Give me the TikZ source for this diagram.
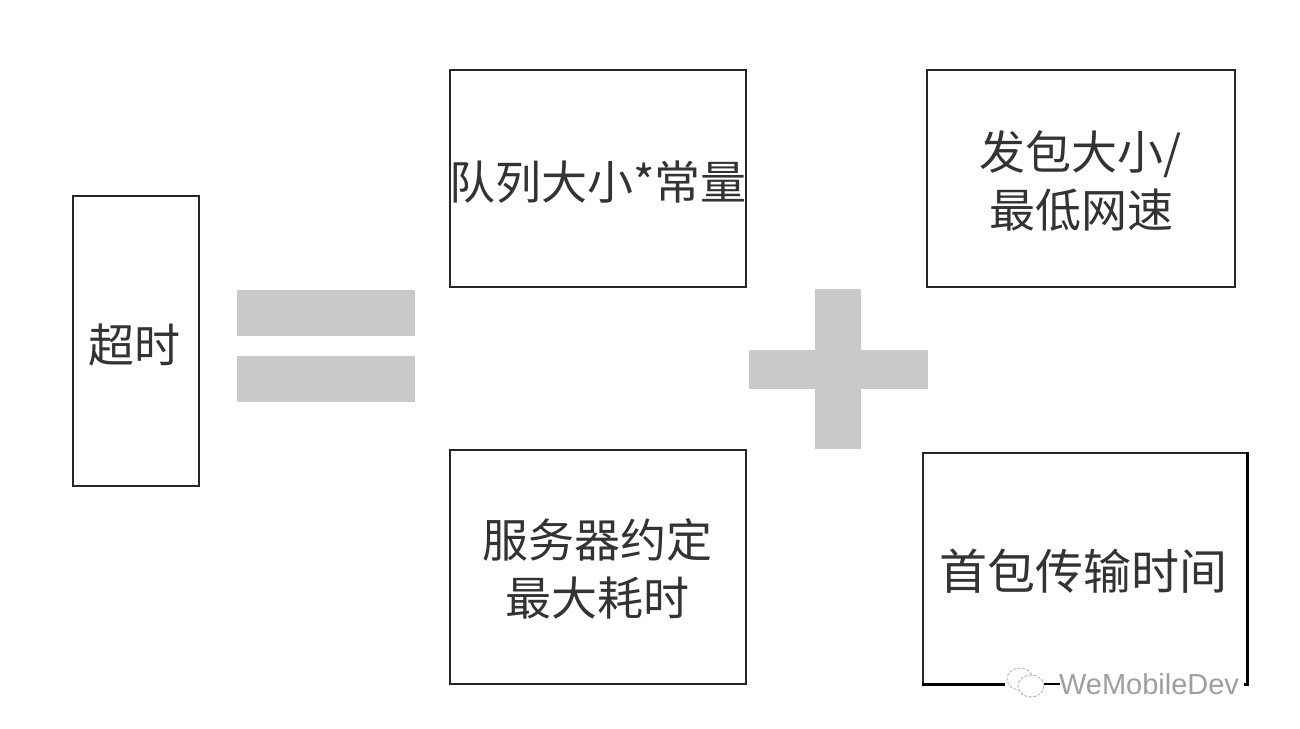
\documentclass[tikz,border=0pt]{standalone}
\usepackage{fontspec}
\newfontfamily\cjk{Noto Sans CJK SC}
\begin{document}
\begin{tikzpicture}[x=1pt,y=-1pt,
 box/.style={draw=black!85,line width=1.2pt,fill=white,inner sep=0pt},
 lab/.style={font=\cjk\fontsize{46}{58}\selectfont\color{black!80},align=center,inner sep=0pt},
 sym/.style={fill=gray!42,draw=none,inner sep=0pt},
 heavy/.style={draw=black,line width=2.6pt},
 wmark/.style={draw=gray!55,line width=1pt,dash pattern=on 3pt off 1.5pt,fill=white}]
\useasboundingbox (0,0) rectangle (1300,728);
\fill[white] (0,0) rectangle (1300,728);
\node[box,minimum width=126pt,minimum height=290pt] (a) at (136,341) {};
\node[lab] (at) at (134,345) {超时};
\node[box,minimum width=296pt,minimum height=217pt] (b) at (598,178.5) {};
\node[lab] (bt) at (598,182) {队列大小*常量};
\node[box,minimum width=308pt,minimum height=217pt] (c) at (1081,178.5) {};
\node[lab] (ct) at (1081,181) {发包大小/\\最低网速};
\node[box,minimum width=296pt,minimum height=234pt] (d) at (598,567) {};
\node[lab] (dt) at (597,569) {服务器约定\\最大耗时};
\node[box,minimum width=324pt,minimum height=231pt] (e) at (1085,568.5) {};
\draw[heavy] (e.north east) -- (e.south east) -- (e.south west);
\node[lab,font=\cjk\fontsize{48}{58}\selectfont\color{black!80}] (et) at (1083,571) {首包传输时间};
\node[sym,minimum width=178pt,minimum height=46pt] (eq1) at (326,312.5) {};
\node[sym,minimum width=178pt,minimum height=46pt] (eq2) at (326,379) {};
\node[sym,minimum width=179pt,minimum height=39pt] (p1) at (838.5,369) {};
\node[sym,minimum width=46pt,minimum height=160pt] (p2) at (838,369) {};
% watermark
\fill[white] (1005,670) rectangle (1056,702);
\fill[white] (1056,672) rectangle (1244,698);
\draw[heavy] (1044,684) -- (1060,684);
\draw[wmark] (1020,679) ellipse (13pt and 11pt);
\draw[wmark] (1031,686) ellipse (13pt and 11pt);
\node[font=\fontspec{Liberation Sans}\fontsize{29}{32}\selectfont,text=gray!75,inner sep=0pt] (wm) at (1149,684) {WeMobileDev};
\end{tikzpicture}
\end{document}
